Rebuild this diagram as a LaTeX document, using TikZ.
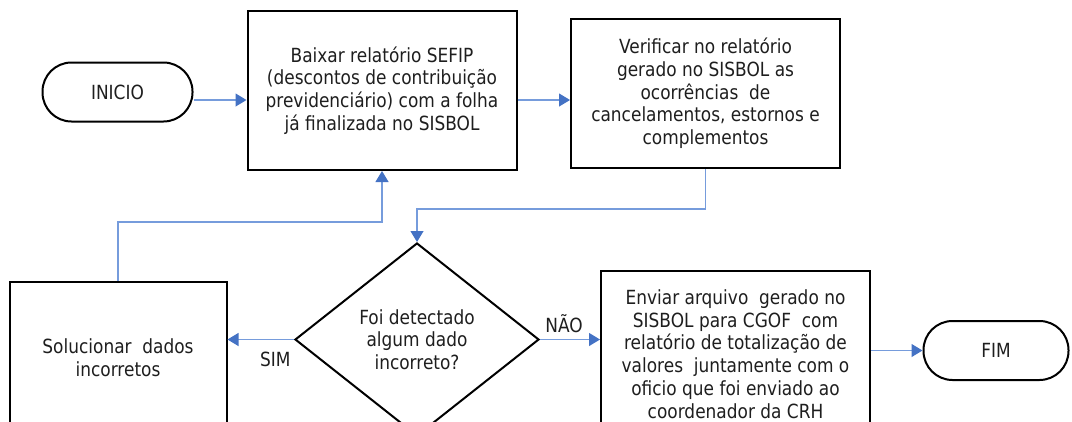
\documentclass[tikz,border=0pt]{standalone}
\usepackage{fontspec}
\setmainfont{DejaVu Sans}[FakeStretch=0.87]
\usetikzlibrary{shapes.geometric,arrows.meta}
\definecolor{flowblue}{RGB}{68,114,196}
\definecolor{linkblue}{RGB}{118,156,220}
\definecolor{textgray}{RGB}{30,30,30}
\begin{document}
\begin{tikzpicture}
    [
    x=1pt,y=-1pt,
    font=\fontsize{19.5}{22.7}\selectfont,
    text=textgray,
    terminal/.style={draw,line width=2pt,rectangle,rounded corners=29pt,minimum width=150pt,minimum height=59pt},
    process/.style={draw,line width=2pt,rectangle,align=center,inner sep=0pt,minimum width=269pt},
    decision/.style={draw,line width=2pt,diamond,align=center,inner sep=0pt,minimum width=244pt,minimum height=193pt},
    flow/.style={draw=linkblue,line width=1.2pt,-{Triangle[length=11pt,width=13pt,color=flowblue]}}
    ]
    \useasboundingbox (0,0) rectangle (1072,421);
    \clip (0,0) rectangle (1072,421);
    \node (inicio) at (117.5,92) [terminal] {INICIO};
    \node (baixar) at (382,90.5) [process,minimum height=159pt] {Baixar relatório SEFIP\\(descontos de contribuição\\previdenciário) com a folha\\já finalizada no SISBOL};
    \node (verificar) at (705.5,93.5) [process,minimum height=149pt] {Verificar no relatório\\gerado no SISBOL as\\ocorrências\ \ de\\cancelamentos, estornos e\\complementos};
    \node (decisao) at (417,339.5) [decision] {Foi detectado\\algum dado\\incorreto?};
    \node (solucionar) at (118,358) [process,minimum width=217pt,minimum height=153pt] {Solucionar\ \ dados\\incorretos};
    \node (enviar) at (735.5,354) [process,minimum height=167pt] {Enviar arquivo\ \ gerado no\\SISBOL para CGOF\ \ com\\relatório de totalização de\\valores\ \ juntamente com o\\oficio que foi enviado ao\\coordenador da CRH};
    \node (fim) at (996,350.5) [terminal,minimum width=145pt] {FIM};
    \coordinate (r1) at (0,100);
    \draw [flow] (inicio.east |- r1) -- (baixar.west |- r1);
    \draw [flow] (baixar.east |- r1) -- (verificar.west |- r1);
    \draw [flow] (verificar.south) -- ++(0,40) -| (decisao.north);
    \draw [flow] (decisao.west) -- (decisao.west -| solucionar.east) node [pos=0.28,below=9pt,text=textgray] {SIM};
    \draw [flow] (decisao.east) -- (decisao.east -| enviar.west) node [pos=0.4,above=3pt,text=textgray] {NÃO};
    \draw [flow] (solucionar.north) -- ++(0,-58.6) -| (baixar.south);
    \draw [flow] (enviar.east |- fim.west) -- (fim.west);
  \end{tikzpicture}
\end{document}
